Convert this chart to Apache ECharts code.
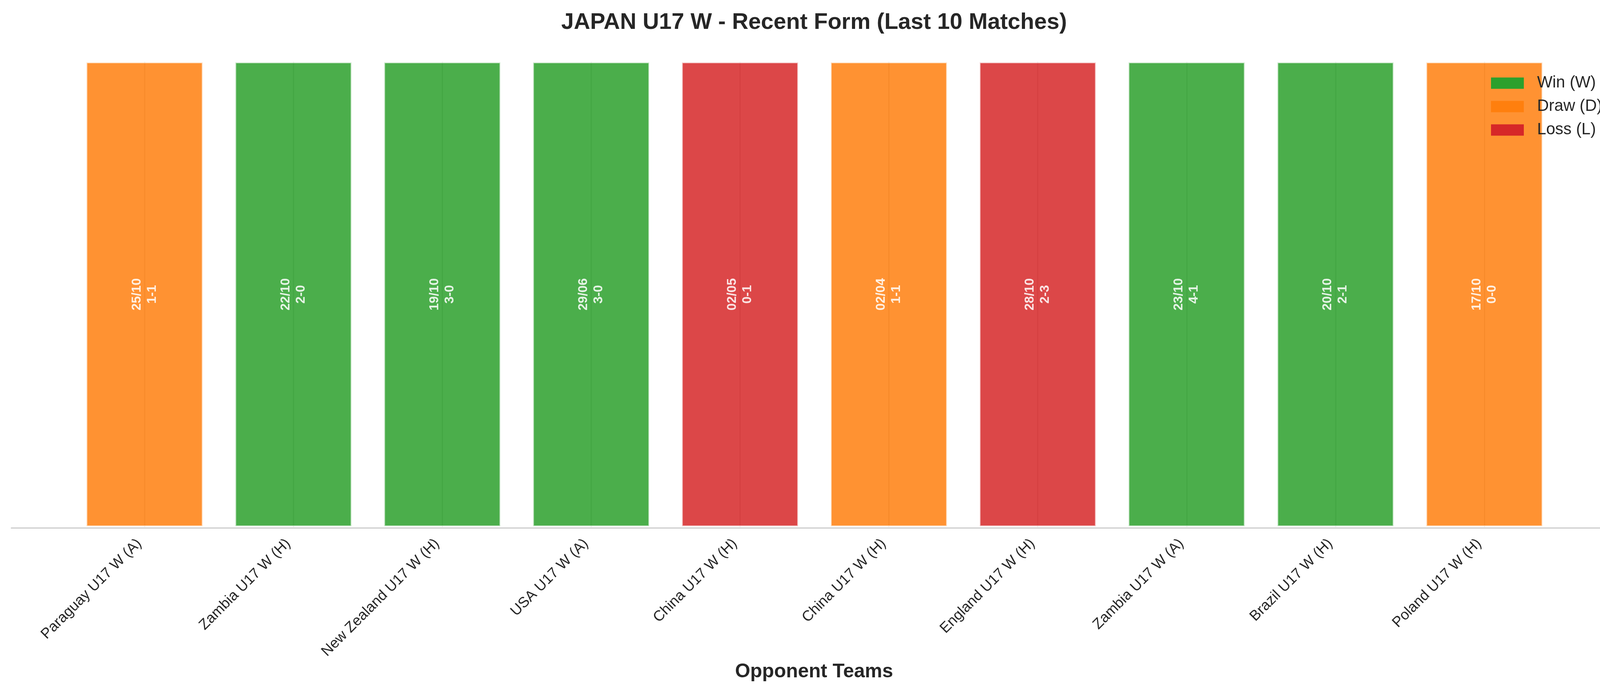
<!DOCTYPE html>
<html>
<head>
<meta charset="utf-8">
<script src="https://cdn.jsdelivr.net/npm/echarts@6/dist/echarts.min.js"></script>
<style>
  html, body { margin: 0; padding: 0; background: #ffffff; overflow: hidden; }
  #chart { width: 4168px; height: 1770px; }
</style>
</head>
<body>
<div id="chart"></div>
<script>
const opponents = ['Paraguay U17 W (A)', 'Zambia U17 W (H)', 'New Zealand U17 W (H)', 'USA U17 W (A)', 'China U17 W (H)', 'China U17 W (H)', 'England U17 W (H)', 'Zambia U17 W (A)', 'Brazil U17 W (H)', 'Poland U17 W (H)'];
const results = ['D', 'W', 'W', 'W', 'L', 'D', 'L', 'W', 'W', 'D'];
const dates = ['25/10', '22/10', '19/10', '29/06', '02/05', '02/04', '28/10', '23/10', '20/10', '17/10'];
const scores = ['1-1', '2-0', '3-0', '3-0', '0-1', '1-1', '2-3', '4-1', '2-1', '0-0'];
const formValue = [1, 1, 1, 1, 1, 1, 1, 1, 1, 1];
const resultKeys = ['W', 'D', 'L'];
const resultNames = ['Win (W)', 'Draw (D)', 'Loss (L)'];
const resultColors = ['#2ca02c', '#ff7f0e', '#d62728'];

const FONT = "'Liberation Sans', Arial, Helvetica, sans-serif";
const chart = echarts.init(document.getElementById('chart'), null, { renderer: 'canvas' });

const barSeries = resultKeys.map((k, si) => ({
  name: resultNames[si],
  type: 'bar',
  xAxisIndex: 0,
  yAxisIndex: 0,
  barWidth: '79%',
  barGap: '-100%',
  z: 10,
  data: results.map((r, i) => (r === k ? formValue[i] : '-')),
  itemStyle: {
    color: resultColors[si],
    opacity: 0.85,
    borderColor: 'rgba(255,255,255,0.8)',
    borderWidth: 4
  },
  label: {
    show: true,
    position: 'inside',
    rotate: 90,
    color: '#ffffff',
    fontFamily: FONT,
    fontWeight: 'bold',
    fontSize: 33,
    lineHeight: 39,
    align: 'center',
    verticalAlign: 'middle',
    formatter: p => dates[p.dataIndex] + '\n' + scores[p.dataIndex]
  },
  emphasis: { disabled: true },
  animation: false
}));

const option = {
  backgroundColor: '#ffffff',
  animation: false,
  title: {
    text: 'JAPAN U17 W - Recent Form (Last 10 Matches)',
    left: 'center',
    top: 29,
    padding: 0,
    textStyle: { fontFamily: FONT, fontWeight: 'bold', fontSize: 58, color: '#262626' }
  },
  legend: {
    data: resultNames,
    z: 30,
    orient: 'vertical',
    left: 3817,
    top: 192,
    padding: 0,
    itemWidth: 84,
    itemHeight: 29,
    itemGap: 18,
    icon: 'rect',
    itemStyle: { opacity: 1, borderWidth: 0 },
    textStyle: { fontFamily: FONT, fontSize: 41.7, color: '#262626', lineHeight: 42, padding: [0, 0, 0, 29] }
  },
  grid: [
    { left: 179.5, right: 177.5, top: 158, bottom: 420 },
    { left: 29, right: 29, top: 158, bottom: 418 }
  ],
  xAxis: [
    {
      type: 'category',
      gridIndex: 0,
      data: opponents,
      axisLine: { show: false },
      axisTick: { show: false },
      splitLine: { show: false },
      axisLabel: {
        rotate: 45,
        interval: 0,
        margin: 50,
        align: 'right',
        verticalAlign: 'bottom',
        fontFamily: FONT,
        fontSize: 37.5,
        color: '#262626'
      }
    },
    {
      type: 'value',
      gridIndex: 1,
      min: 0,
      max: 1,
      axisLine: { show: true, lineStyle: { color: '#cccccc', width: 3 } },
      axisTick: { show: false },
      axisLabel: { show: false },
      splitLine: { show: false },
      name: 'Opponent Teams',
      nameLocation: 'middle',
      nameGap: 344,
      nameTextStyle: { fontFamily: FONT, fontWeight: 'bold', fontSize: 50, color: '#262626' }
    }
  ],
  yAxis: [
    { type: 'value', gridIndex: 0, min: 0, max: 1, show: false },
    { type: 'value', gridIndex: 1, min: 0, max: 1, show: false }
  ],
  series: [
    {
      name: 'gridlines',
      type: 'line',
      xAxisIndex: 0,
      yAxisIndex: 0,
      z: 1,
      data: opponents.map(() => '-'),
      symbol: 'none',
      silent: true,
      markLine: {
        silent: true,
        z: 1,
        symbol: ['none', 'none'],
        label: { show: false },
        lineStyle: { color: '#cccccc', width: 3, type: 'solid' },
        emphasis: { disabled: true },
        animation: false,
        data: opponents.map((_, i) => ({ xAxis: i }))
      }
    },
    ...barSeries
  ]
};
chart.setOption(option);
</script>
</body>
</html>
